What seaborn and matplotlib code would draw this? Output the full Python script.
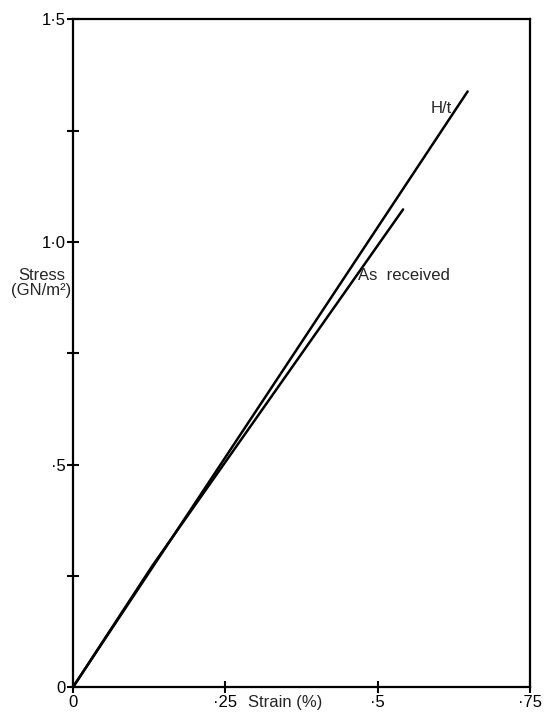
import matplotlib
matplotlib.use("Agg")
import matplotlib.pyplot as plt
import seaborn as sns
import pandas as pd

# Data
ht_strain = [0.0, 0.13, 0.648]
ht_stress = [0.0, 0.268, 1.338]
ar_strain = [0.0, 0.13, 0.542]
ar_stress = [0.0, 0.272, 1.073]

x_ticks = [0.0, 0.25, 0.5, 0.75]
x_tick_labels = ["0", "·25", "·5", "·75"]
y_ticks = [0.0, 0.25, 0.5, 0.75, 1.0, 1.25, 1.5]
y_tick_labels = ["0", "", "·5", "", "1·0", "", "1·5"]

sns.set_style("ticks")
plt.rcParams["font.family"] = ["Liberation Sans", "DejaVu Sans"]

fig = plt.figure(figsize=(5.45, 7.15), dpi=100)
ax = fig.add_axes([0.134, 0.039, 0.838, 0.934])

df_ht = pd.DataFrame({"strain": ht_strain, "stress": ht_stress})
df_ar = pd.DataFrame({"strain": ar_strain, "stress": ar_stress})
sns.lineplot(data=df_ht, x="strain", y="stress", color="black", lw=1.8, sort=False, ax=ax)
sns.lineplot(data=df_ar, x="strain", y="stress", color="black", lw=1.8, sort=False, ax=ax)

ax.set_xlim(0, 0.75)
ax.set_ylim(0, 1.5)
ax.set_xticks(x_ticks)
ax.set_xticklabels(x_tick_labels)
ax.set_yticks(y_ticks)
ax.set_yticklabels(y_tick_labels)
ax.tick_params(direction="inout", length=9, width=1.5, labelsize=12, pad=1, colors="black")

for s in ax.spines.values():
    s.set_visible(True)
    s.set_linewidth(1.6)
    s.set_color("black")

ax.set_xlabel("Strain (%)", fontsize=12)
ax.xaxis.set_label_coords(0.465, -0.012)
ax.set_ylabel("")

ax.text(0.588, 1.30, "H/t", fontsize=12, ha="left", va="center")
ax.text(0.468, 0.925, "As  received", fontsize=12, ha="left", va="center")
fig.text(0.076, 0.604, "Stress\n(GN/m²)", fontsize=12, ha="center", va="center", linespacing=1.0)

fig.savefig("out.png", dpi=100)
